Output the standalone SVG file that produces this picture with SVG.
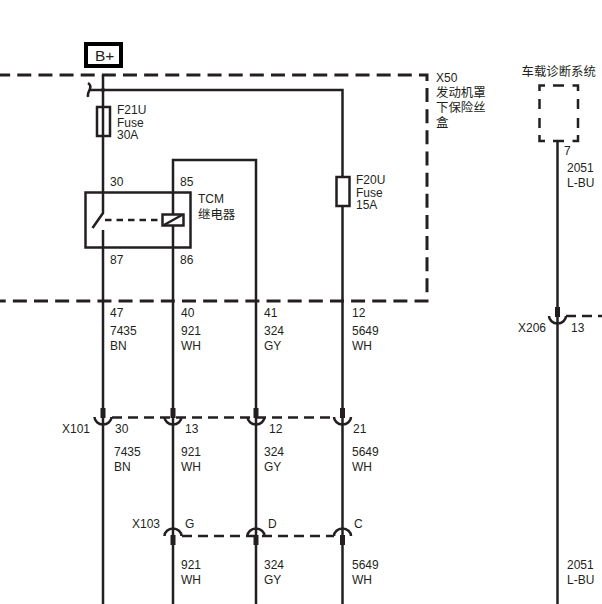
<svg xmlns="http://www.w3.org/2000/svg" width="602" height="604" viewBox="0 0 602 604">
<defs>
<style>
text{font-family:"Liberation Sans","Noto Sans CJK SC",sans-serif;font-size:12px;fill:#231f20}
.c{font-size:12.400px}
.w{fill:none;stroke:#231f20;stroke-width:2.500}
.d{fill:none;stroke:#231f20;stroke-width:3;stroke-dasharray:14 7.140;stroke-dashoffset:3.860}
.d2{fill:none;stroke:#231f20;stroke-width:2.500;stroke-dasharray:10 6}
.p{fill:#231f20}
</style>
<g id="down"><path class="w" d="M-8.500 0A8.500 7.500 0 0 0 8.500 0"/><rect class="p" x="-2.500" y="-9" width="5" height="10"/></g>
<g id="up"><path class="w" d="M-8.500 0A8.500 7.500 0 0 1 8.500 0"/><rect class="p" x="-2.500" y="-1" width="5" height="10"/></g>
</defs>
<g id="connectors">
<path class="w" d="M103 75V192M90 90H342.500V176M342.500 206V604"/>
<path class="w" d="M103 192V213L92.500 228M103 230V604"/>
<path class="w" d="M173 192V214M173 226V604M173 192V160H256V604"/>
<path class="w" stroke-width="2" d="M88 83C91 85 91 87 89.500 90C88 93 87.500 95 88 97"/>
<circle class="p" cx="103" cy="90" r="2"/>
<path class="w" d="M557.500 141V604"/>
<path class="w" stroke-dasharray="6.500 5" d="M105 220H162"/>
</g>
<g id="X50">
<path class="d" d="M0 75H427V301H0"/>
<text x="436" y="82">X50</text>
<text class="c" x="436" y="97">发动机罩</text>
<text class="c" x="436" y="112">下保险丝</text>
<text class="c" x="436" y="127">盒</text>
</g>
<g id="Bplus">
<rect x="86" y="44" width="35" height="22" fill="#fff" stroke="#000" stroke-width="4"/>
<text x="95" y="60.500" style="font-size:15.500px">B+</text>
</g>
<g id="F21U">
<rect class="w" x="97" y="107" width="13" height="29"/>
<text x="117" y="114">F21U</text><text x="117" y="126.500">Fuse</text><text x="117" y="139">30A</text>
</g>
<g id="F20U">
<rect class="w" x="336.500" y="177" width="13" height="29"/>
<text x="356" y="184">F20U</text><text x="356" y="196.500">Fuse</text><text x="356" y="209">15A</text>
</g>
<g id="TCM">
<rect class="w" x="85.500" y="192.500" width="105" height="55"/>
<rect x="162.500" y="214.500" width="21" height="11" fill="#fff" stroke="#231f20" stroke-width="2.500"/>
<path class="w" d="M164 225L182 215"/>
<text x="110" y="186">30</text><text x="180" y="186">85</text>
<text x="110" y="264">87</text><text x="180" y="264">86</text>
<text x="198" y="203">TCM</text><text class="c" x="198" y="219">继电器</text>
</g>
<g id="labels47">
<text x="110" y="317">47</text><text x="110" y="335">7435</text><text x="110" y="350">BN</text>
<text x="181" y="317">40</text><text x="181" y="335">921</text><text x="181" y="350">WH</text>
<text x="264" y="317">41</text><text x="264" y="335">324</text><text x="264" y="350">GY</text>
<text x="352" y="317">12</text><text x="352" y="335">5649</text><text x="352" y="350">WH</text>
</g>
<g id="X101">
<path class="d2" d="M112 417.500H334"/>
<use href="#down" x="103" y="417"/><use href="#down" x="173" y="417"/><use href="#down" x="256" y="417"/><use href="#down" x="342.500" y="417"/>
<text x="62" y="433">X101</text>
<text x="115" y="433">30</text><text x="185" y="433">13</text><text x="269" y="433">12</text><text x="353" y="433">21</text>
<text x="114" y="456">7435</text><text x="114" y="471">BN</text>
<text x="181" y="456">921</text><text x="181" y="471">WH</text>
<text x="264" y="456">324</text><text x="264" y="471">GY</text>
<text x="352" y="456">5649</text><text x="352" y="471">WH</text>
</g>
<g id="X103">
<path class="d2" d="M182 536H334"/>
<use href="#up" x="173" y="536"/><use href="#up" x="256" y="536"/><use href="#up" x="342.500" y="536"/>
<text x="132" y="528">X103</text>
<text x="185" y="528">G</text><text x="268" y="528">D</text><text x="354" y="528">C</text>
<text x="181" y="569">921</text><text x="181" y="584">WH</text>
<text x="264" y="569">324</text><text x="264" y="584">GY</text>
<text x="352" y="569">5649</text><text x="352" y="584">WH</text>
</g>
<g id="diag">
<path class="w" stroke-width="3" d="M539.500 91V85.500H545M553 85.500H564M572.500 85.500H578V91M539.500 99V109M539.500 118V128M578 99V109M578 118V128M539.500 135V141H545M553 141H564M572.500 141H578V135"/>
<text class="c" x="521.500" y="76">车载诊断系统</text>
<text x="564" y="155">7</text><text x="567" y="172">2051</text><text x="567" y="187">L-BU</text>
</g>
<g id="X206">
<path class="d2" d="M566 316H602"/>
<use href="#down" x="557.500" y="316"/>
<text x="518" y="332">X206</text><text x="571" y="332">13</text>
<text x="567" y="569">2051</text><text x="567" y="584">L-BU</text>
</g>
</svg>
